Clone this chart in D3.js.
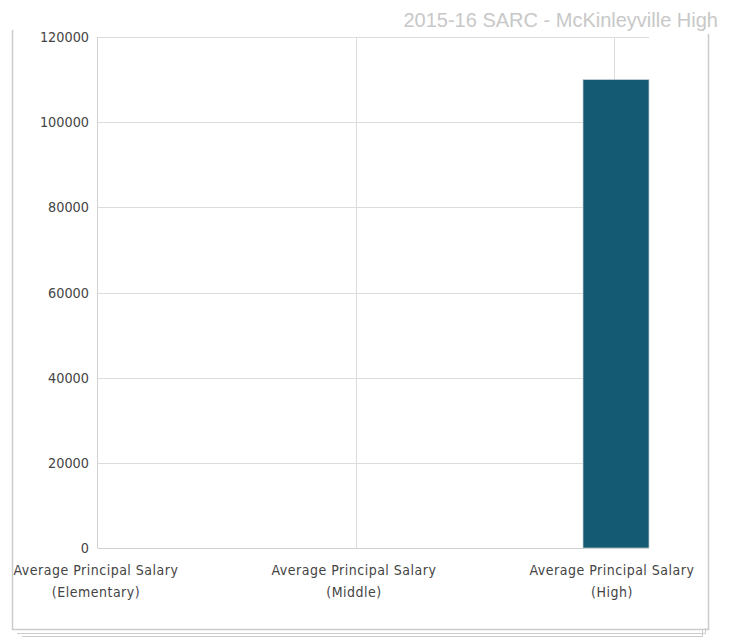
<!DOCTYPE html>
<html><head><meta charset="utf-8">
<script src="https://cdn.jsdelivr.net/npm/d3@7"></script>
<style>body{margin:0;background:#fff}</style>
</head><body>
<svg id="c" width="739" height="641"></svg>
<script>
const categories = [["Average Principal Salary","(Elementary)"],["Average Principal Salary","(Middle)"],["Average Principal Salary","(High)"]];
const values = [0, 0, 110000];
const yTicks = [0, 20000, 40000, 60000, 80000, 100000, 120000];
const title = "2015-16 SARC - McKinleyville High";

const svg = d3.select("#c");
const pLeft = 98, pRight = 649, pTop = 37, pBottom = 548;
const x = d3.scalePoint().domain(d3.range(categories.length)).range([pLeft, 614]);
const y = d3.scaleLinear().domain([0, 120000]).range([pBottom, pTop]);

// frame with stacked shadow
const fr = svg.append("g").attr("fill","none");
fr.append("path").attr("d","M22,636.5H702.5V630").attr("stroke","#ccc");
fr.append("path").attr("d","M17,633.5H705.5V628").attr("stroke","#ccc");
fr.append("path").attr("d","M12.5,30V629.5H708.5V34").attr("stroke","#ccc").attr("stroke-width",1.5);

// title
svg.append("text").attr("x",718).attr("y",27).attr("text-anchor","end")
  .attr("font-family","Liberation Sans, Arial, sans-serif").attr("font-size",20).attr("fill","#c8c8c8").text(title);

// grid
svg.append("g").selectAll("line").data(yTicks.slice(1)).join("line")
  .attr("x1",pLeft).attr("x2",pRight).attr("y1",d=>Math.round(y(d))+0.5).attr("y2",d=>Math.round(y(d))+0.5)
  .attr("stroke","#dcdcdc");
svg.append("g").selectAll("line").data(d3.range(1,categories.length)).join("line")
  .attr("x1",d=>Math.round(x(d))+0.5).attr("x2",d=>Math.round(x(d))+0.5).attr("y1",pTop).attr("y2",pBottom)
  .attr("stroke","#dcdcdc");
svg.append("line").attr("x1",pLeft-0.5).attr("x2",pLeft-0.5).attr("y1",pTop).attr("y2",pBottom).attr("stroke","#d0d0d0");
svg.append("line").attr("x1",pLeft).attr("x2",pRight).attr("y1",pBottom+0.5).attr("y2",pBottom+0.5).attr("stroke","#d0d0d0");

// bars
const bw = 66;
svg.append("g").selectAll("rect").data(values).join("rect")
  .attr("x",(d,i)=>x(i)-bw/2+2).attr("width",bw).attr("y",d=>y(d)).attr("height",d=>y(0)-y(d))
  .attr("fill","#135a72").attr("stroke","#c9d3d8").attr("stroke-width",0.7)
  .attr("display",d=>d>0?null:"none");

// y labels
svg.append("g").selectAll("text").data(yTicks).join("text")
  .attr("x",89).attr("y",d=>y(d)+5).attr("text-anchor","end")
  .attr("font-family","DejaVu Sans Condensed, DejaVu Sans, sans-serif").attr("font-stretch","condensed")
  .attr("font-size",14.3).attr("fill","#444").text(d=>d);

// x labels
const xl = svg.append("g").selectAll("text").data(categories).join("text")
  .attr("text-anchor","middle").attr("font-family","DejaVu Sans Condensed, DejaVu Sans, sans-serif").attr("font-stretch","condensed")
  .attr("font-size",14).attr("letter-spacing",0.5).attr("fill","#444");
xl.append("tspan").attr("x",(d,i)=>x(i)-2).attr("y",575).text(d=>d[0]);
xl.append("tspan").attr("x",(d,i)=>x(i)-2).attr("y",597).text(d=>d[1]);
</script>
</body></html>
